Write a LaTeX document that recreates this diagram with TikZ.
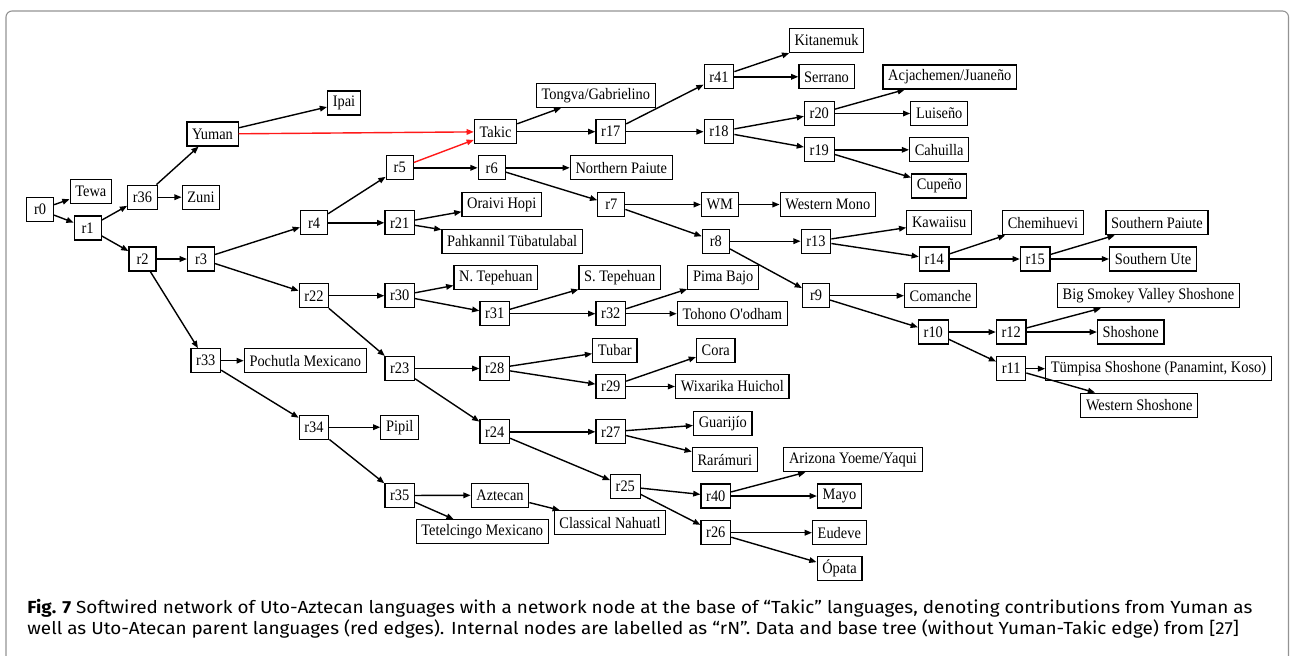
\documentclass[tikz,border=0pt]{standalone}
\usepackage{fontspec}
\setmainfont{Liberation Serif}[FakeStretch=0.9, Ligatures=TeXOff]
\newfontfamily\capfont{Fira Sans}[FakeStretch=1.08]
\usetikzlibrary{arrows.meta}

\begin{document}
\begin{tikzpicture}[
    x=0.5pt, y=-0.5pt,
    font=\fontsize{8}{9}\selectfont,
    box/.style={
        draw=black,
        line width=0.6pt,
        fill=white,
        minimum width=13.5pt,
        minimum height=12pt,
        inner xsep=2.6pt,
        inner ysep=0pt
    },
    arrow/.style={-{Triangle[length=3.6pt,width=2.8pt]}, line width=0.7pt, draw=black},
    redarrow/.style={arrow, draw=red!90!white}
]

\useasboundingbox (0,0) rectangle (1290,655);

% frame of the figure
\draw[gray!85, line width=0.55pt, rounded corners=3pt] (6,670) -- (6,11) -- (1288.5,11) -- (1288.5,670);

% root and northern branch
\node[box] (r0) at (40,209.7) {r0};
\node[box] (tewa) at (90.8,191.7) {Tewa};
\node[box] (r1) at (87.7,228) {r1};
\node[box] (r36) at (142.5,197.2) {r36};
\node[box] (zuni) at (201,197.2) {Zuni};
\node[box] (yuman) at (212.5,134) {Yuman};
\node[box] (ipai) at (344,103) {Ipai};
\node[box] (r2) at (142.5,259) {r2};
\node[box] (r3) at (201,259) {r3};
\node[box] (r4) at (314,222.8) {r4};
\node[box] (r5) at (399.7,167.8) {r5};
\node[box] (r21) at (399.7,222.8) {r21};
\node[box] (hopi) at (501.8,204.5) {Oraivi Hopi};
\node[box] (tubatulabal) at (512.2,241.2) {Pahkannil Tübatulabal};

% Takic
\node[box] (takic) at (495.5,131.7) {Takic};
\node[box] (tongva) at (595.8,95.2) {Tongva/Gabrielino};
\node[box] (r17) at (610.8,131.7) {r17};
\node[box] (r41) at (719,76.8) {r41};
\node[box] (kitanemuk) at (826.5,40.5) {Kitanemuk};
\node[box] (serrano) at (826.5,76.8) {Serrano};
\node[box] (r18) at (719,131.7) {r18};
\node[box] (r20) at (819.3,113.5) {r20};
\node[box] (r19) at (819.3,149.8) {r19};
\node[box] (acjachemen) at (949.8,77) {Acjachemen/Juaneño};
\node[box] (luiseno) at (939.2,113.5) {Luiseño};
\node[box] (cahuilla) at (939.2,149.8) {Cahuilla};
\node[box] (cupeno) at (939.2,186) {Cupeño};

% Numic
\node[box] (r6) at (491.7,167.8) {r6};
\node[box] (npaiute) at (621.3,167.8) {Northern Paiute};
\node[box] (r7) at (611.3,204.5) {r7};
\node[box] (wm) at (719.8,204.5) {WM};
\node[box] (wmono) at (827.8,204.5) {Western Mono};
\node[box] (r8) at (715.8,241.2) {r8};
\node[box] (r13) at (816,241.2) {r13};
\node[box] (kawaiisu) at (939.2,222.7) {Kawaiisu};
\node[box] (r14) at (934.2,259) {r14};
\node[box] (chemihuevi) at (1043,222.7) {Chemihuevi};
\node[box] (r15) at (1035.2,259) {r15};
\node[box] (spaiute) at (1157,222.7) {Southern Paiute};
\node[box] (sute) at (1153,259) {Southern Ute};
\node[box] (r9) at (816,295.7) {r9};
\node[box] (comanche) at (940.5,295.7) {Comanche};
\node[box] (r10) at (933.3,332) {r10};
\node[box] (r12) at (1011.2,332) {r12};
\node[box] (bigsmokey) at (1148.5,295.7) {Big Smokey Valley Shoshone};
\node[box] (shoshone) at (1130.7,332) {Shoshone};
\node[box] (r11) at (1011.2,368.7) {r11};
\node[box] (tumpisa) at (1158.5,368.7) {Tümpisa Shoshone (Panamint, Koso)};
\node[box] (wshoshone) at (1139.2,405.2) {Western Shoshone};

% southern branch
\node[box] (r22) at (314,295.7) {r22};
\node[box] (r30) at (399.7,295.7) {r30};
\node[box] (ntepehuan) at (495.8,277.5) {N. Tepehuan};
\node[box] (r31) at (494.7,313.7) {r31};
\node[box] (stepehuan) at (619.7,277.5) {S. Tepehuan};
\node[box] (r32) at (610.8,313.7) {r32};
\node[box] (pimabajo) at (723.2,277.5) {Pima Bajo};
\node[box] (tohono) at (732.3,313.7) {Tohono O'odham};
\node[box] (r23) at (399.7,368.5) {r23};
\node[box] (r28) at (494.7,368.5) {r28};
\node[box] (tubar) at (614.8,350.2) {Tubar};
\node[box] (r29) at (610.8,386.5) {r29};
\node[box] (cora) at (715.7,350.2) {Cora};
\node[box] (huichol) at (732.3,386.5) {Wixarika Huichol};
\node[box] (r24) at (494.7,431.8) {r24};
\node[box] (r27) at (610.8,431.8) {r27};
\node[box] (guarijio) at (722.8,423.2) {Guarijío};
\node[box] (raramuri) at (724.8,459.7) {Rarámuri};
\node[box] (r25) at (625.3,486.5) {r25};
\node[box] (r40) at (715.8,496) {r40};
\node[box] (yaqui) at (853,459.7) {Arizona Yoeme/Yaqui};
\node[box] (mayo) at (839.5,496) {Mayo};
\node[box] (r26) at (715.8,532.7) {r26};
\node[box] (eudeve) at (839.3,532.7) {Eudeve};
\node[box] (opata) at (839.5,568.8) {Ópata};

% Aztecan
\node[box] (r33) at (205.8,360.7) {r33};
\node[box] (pochutla) at (305.3,360.7) {Pochutla Mexicano};
\node[box] (r34) at (314,427.2) {r34};
\node[box] (pipil) at (399.7,427.2) {Pipil};
\node[box] (r35) at (399.7,495.5) {r35};
\node[box] (aztecan) at (500,495.2) {Aztecan};
\node[box] (tetelcingo) at (482.3,531.8) {Tetelcingo Mexicano};
\node[box] (nahuatl) at (610,522.8) {Classical Nahuatl};

\draw[arrow] (r0) -- (tewa);
\draw[arrow] (r0) -- (r1);
\draw[arrow] (r1) -- (r36);
\draw[arrow] (r1) -- (r2);
\draw[arrow] (r36) -- (yuman);
\draw[arrow] (r36) -- (zuni);
\draw[arrow] (yuman) -- (ipai);
\draw[redarrow] (yuman) -- (takic);
\draw[arrow] (r2) -- (r3);
\draw[arrow] (r2) -- (r33);
\draw[arrow] (r3) -- (r4);
\draw[arrow] (r3) -- (r22);
\draw[arrow] (r4) -- (r5);
\draw[arrow] (r4) -- (r21);
\draw[redarrow] (r5) -- (takic);
\draw[arrow] (r5) -- (r6);
\draw[arrow] (r21) -- (hopi);
\draw[arrow] (r21) -- (tubatulabal);

\draw[arrow] (takic) -- (tongva);
\draw[arrow] (takic) -- (r17);
\draw[arrow] (r17) -- (r41);
\draw[arrow] (r17) -- (r18);
\draw[arrow] (r41) -- (kitanemuk);
\draw[arrow] (r41) -- (serrano);
\draw[arrow] (r18) -- (r20);
\draw[arrow] (r18) -- (r19);
\draw[arrow] (r20) -- (acjachemen);
\draw[arrow] (r20) -- (luiseno);
\draw[arrow] (r19) -- (cahuilla);
\draw[arrow] (r19) -- (cupeno);

\draw[arrow] (r6) -- (npaiute);
\draw[arrow] (r6) -- (r7);
\draw[arrow] (r7) -- (wm);
\draw[arrow] (r7) -- (r8);
\draw[arrow] (wm) -- (wmono);
\draw[arrow] (r8) -- (r13);
\draw[arrow] (r8) -- (r9);
\draw[arrow] (r13) -- (kawaiisu);
\draw[arrow] (r13) -- (r14);
\draw[arrow] (r14) -- (chemihuevi);
\draw[arrow] (r14) -- (r15);
\draw[arrow] (r15) -- (spaiute);
\draw[arrow] (r15) -- (sute);
\draw[arrow] (r9) -- (comanche);
\draw[arrow] (r9) -- (r10);
\draw[arrow] (r10) -- (r12);
\draw[arrow] (r10) -- (r11);
\draw[arrow] (r12) -- (bigsmokey);
\draw[arrow] (r12) -- (shoshone);
\draw[arrow] (r11) -- (tumpisa);
\draw[arrow] (r11) -- (wshoshone);

\draw[arrow] (r22) -- (r30);
\draw[arrow] (r22) -- (r23);
\draw[arrow] (r30) -- (ntepehuan);
\draw[arrow] (r30) -- (r31);
\draw[arrow] (r31) -- (stepehuan);
\draw[arrow] (r31) -- (r32);
\draw[arrow] (r32) -- (pimabajo);
\draw[arrow] (r32) -- (tohono);
\draw[arrow] (r23) -- (r28);
\draw[arrow] (r23) -- (r24);
\draw[arrow] (r28) -- (tubar);
\draw[arrow] (r28) -- (r29);
\draw[arrow] (r29) -- (cora);
\draw[arrow] (r29) -- (huichol);
\draw[arrow] (r24) -- (r27);
\draw[arrow] (r24) -- (r25);
\draw[arrow] (r27) -- (guarijio);
\draw[arrow] (r27) -- (raramuri);
\draw[arrow] (r25) -- (r40);
\draw[arrow] (r25) -- (r26);
\draw[arrow] (r40) -- (yaqui);
\draw[arrow] (r40) -- (mayo);
\draw[arrow] (r26) -- (eudeve);
\draw[arrow] (r26) -- (opata);

\draw[arrow] (r33) -- (pochutla);
\draw[arrow] (r33) -- (r34);
\draw[arrow] (r34) -- (pipil);
\draw[arrow] (r34) -- (r35);
\draw[arrow] (r35) -- (aztecan);
\draw[arrow] (r35) -- (tetelcingo);
\draw[arrow] (aztecan) -- (nahuatl);

% caption (base anchor sits on the last line)
\node[anchor=base west, align=left, inner sep=0pt, font=\capfont\fontsize{8.75}{10.2}\selectfont] (caption) at (27,634)
    {\textbf{Fig. 7} Softwired network of Uto-Aztecan languages with a network node at the base of “Takic” languages, denoting contributions from Yuman as\\
     well as Uto-Atecan parent languages (red edges). Internal nodes are labelled as “rN”. Data and base tree (without Yuman-Takic edge) from [27]};

\end{tikzpicture}
\end{document}
